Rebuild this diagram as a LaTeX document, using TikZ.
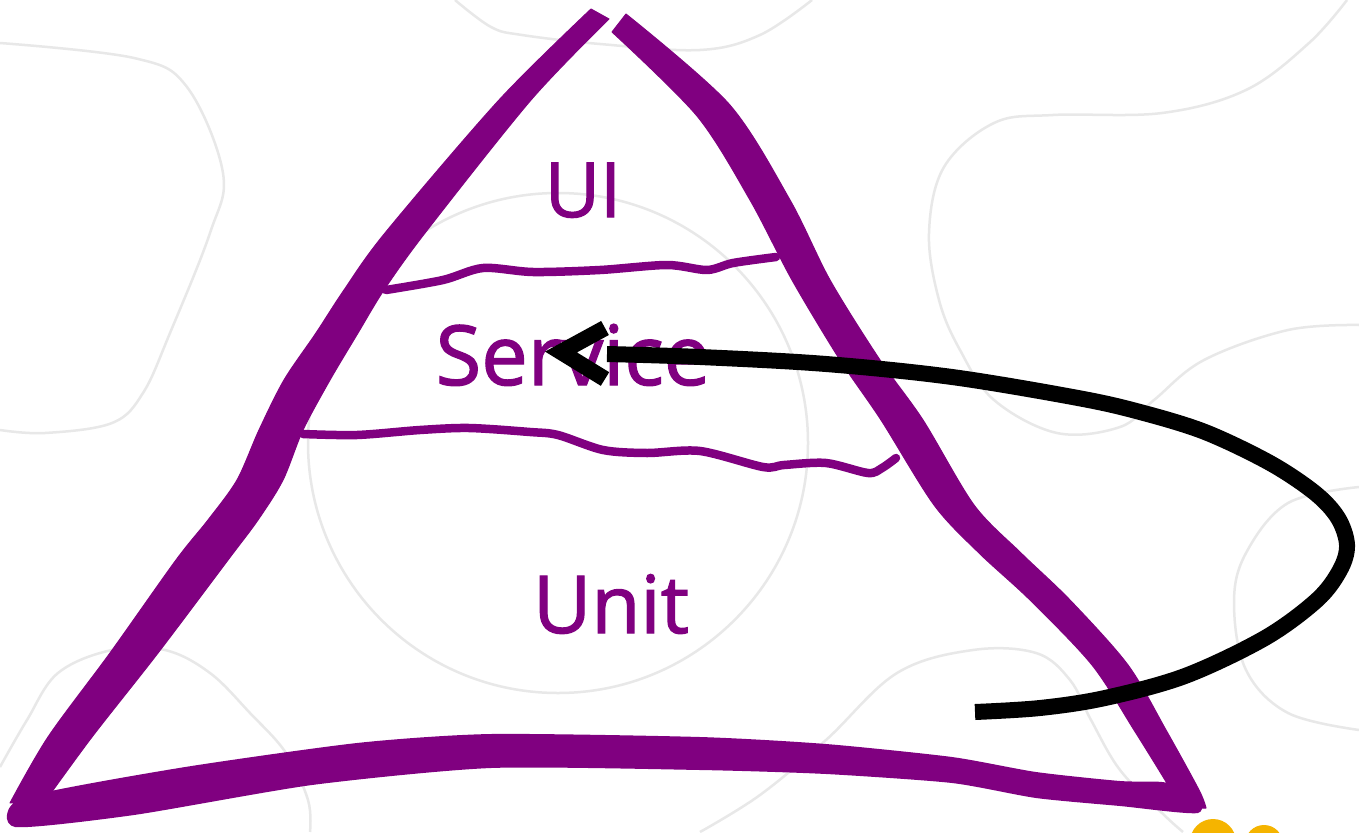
\documentclass[tikz,border=0pt]{standalone}
\usepackage{fontspec}
\newfontfamily\handfont{Open Sans}[FakeBold=1.6]
\definecolor{pyr}{HTML}{800080}
\definecolor{bgline}{HTML}{E8E8E8}
\definecolor{dotyel}{HTML}{F5B400}
\tikzset{
  bgcurve/.style={draw=bgline, line width=2.5pt},
  edgefill/.style={fill=pyr, draw=pyr, line width=1pt, line join=round},
  sepline/.style={draw=pyr, line width=8.5pt, line cap=round, line join=round},
  lbl/.style={text=pyr, anchor=base, inner sep=0pt},
  flowline/.style={draw=black, line width=16pt},
}
\begin{document}
\begin{tikzpicture}[x=1pt,y=-1pt]
\fill[white] (0,0) rectangle (1359,832);
\useasboundingbox (0,0) rectangle (1359,832);
% background pattern
\draw[bgcurve] plot[smooth, tension=0.6] coordinates {(0,43)(134,58)(187,87)(223,173)(210,233)(170,333)(143,393)(112,423)(45,433)(0,430)};
\draw[bgcurve] plot[smooth, tension=0.6] coordinates {(455,0)(491,27)(522,35)(600,44)(700,50)(760,35)(812,0)};
\draw[bgcurve] plot[smooth, tension=0.6] coordinates {(1347,0)(1309,43)(1246,90)(1162,113)(1053,115)(994,123)(944,167)(929,233)(939,300)(960,350)(994,400)(1057,433)(1120,427)(1154,400)(1204,360)(1288,330)(1359,325)};
\draw[bgcurve] plot[smooth, tension=0.6] coordinates {(1359,487)(1288,503)(1246,553)(1234,603)(1246,670)(1288,713)(1359,730)};
\draw[bgcurve] plot[smooth, tension=0.6] coordinates {(0,767)(27,720)(58,673)(112,650)(165,650)(210,673)(250,713)(286,753)(308,800)(310,832)};
\draw[bgcurve] plot[smooth, tension=0.6] coordinates {(700,832)(760,795)(826,740)(897,673)(973,650)(1036,653)(1070,680)(1091,720)(1120,770)(1162,813)(1183,832)};
\draw[bgcurve] (558,443) circle[radius=250];
% pyramid: left side (outer edge down, inner edge up)
\filldraw[edgefill] plot[smooth, tension=0.5] coordinates {(591,9)(499,100)(385,233)(344,290)(316,333)(284,380)(259,430)(237,480)(208,520)(176,560)(110,653)(48,737)(10,803)}
  -- plot[smooth, tension=0.5] coordinates {(46,800)(92,737)(158,653)(228,560)(258,520)(283,480)(303,430)(330,380)(358,333)(384,290)(425,233)(531,100)(609,19)} -- cycle;
% right side (outer edge down, inner edge up)
\filldraw[edgefill] plot[smooth, tension=0.5] coordinates {(626,14)(729,104)(790,200)(830,280)(880,360)(923,420)(974,505)(1021,553)(1070,600)(1128,665)(1166,730)(1199,790)(1206,808)}
  -- plot[smooth, tension=0.5] coordinates {(1180,808)(1171,790)(1134,730)(1092,665)(1030,600)(979,553)(934,505)(881,420)(840,360)(792,280)(750,200)(697,116)(612,32)} -- cycle;
% bottom
\fill[pyr] plot[smooth cycle, tension=0.4] coordinates {(22,798)(179,768)(357,743)(491,734)(700,737)(826,744)(952,757)(1036,772)(1120,781)(1162,782)(1196,790)(1198,813)(1120,806)(1036,798)(952,783)(826,774)(700,770)(491,768)(312,785)(134,815)(15,827)};
\draw[sepline] plot[smooth, tension=0.5] coordinates {(386,290)(443,280)(483,268)(533,272)(600,270)(667,265)(707,270)(733,263)(776,257)};
\draw[sepline] plot[smooth, tension=0.5] coordinates {(303,434)(357,435)(420,430)(469,428)(530,432)(558,435)(603,450)(647,453)(700,451)(763,467)(784,465)(826,463)(868,473)(882,468)(896,458)};
% labels
\node[lbl, font=\handfont\fontsize{76}{76}\selectfont] (ui) at (583,217) {UI};
\node[lbl, font=\handfont\fontsize{83}{83}\selectfont] (service) at (573,385) {Service};
\node[lbl, font=\handfont\fontsize{80}{80}\selectfont] (unit) at (611,633) {Unit};
% arrow
\coordinate (arrstart) at (975,712);
\coordinate (arrend) at (607,354);
\draw[flowline] plot[smooth, tension=0.55] coordinates {(arrstart)(1040,708)(1105,698)(1185,676)(1265,638)(1317,600)(1340,570)(1347,545)(1338,518)(1315,493)(1270,463)(1205,432)(1140,412)(1078,398)(952,377)(826,364)(700,357)(arrend)};
\coordinate (headtop) at (605,328);
\coordinate (headtip) at (561,352);
\coordinate (headbot) at (605,379);
\draw[flowline, line join=miter] (headtop) -- (headtip) -- (headbot);
% yellow dots
\fill[dotyel] (1213,842) circle[radius=23];
\fill[dotyel] (1264,844) circle[radius=19];
\end{tikzpicture}
\end{document}
